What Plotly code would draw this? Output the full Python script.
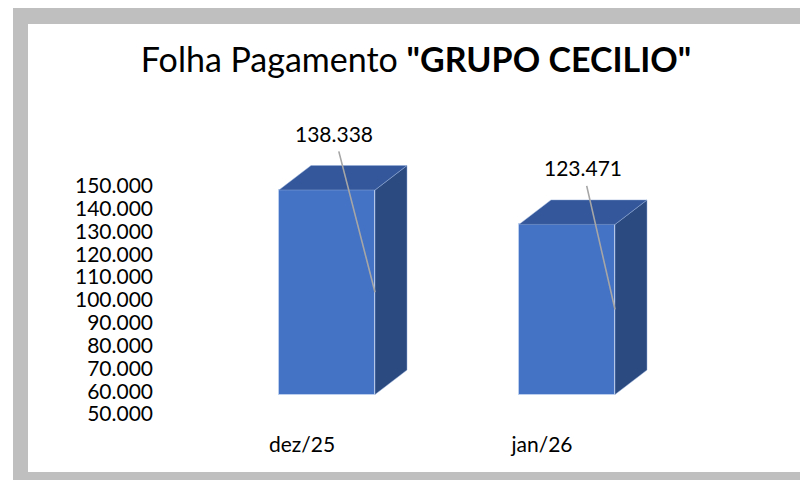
import plotly.graph_objects as go

# ---- data ----
categories = ["dez/25", "jan/26"]
values = [138338, 123471]
tick_values = [50000, 60000, 70000, 80000, 90000, 100000, 110000, 120000, 130000, 140000, 150000]
title_regular = "Folha Pagamento "
title_bold = '"GRUPO CECILIO"'

# ---- layout geometry (pixels) ----
W, H = 800, 480
L, R, T, B = 158, 40, 120, 50
PW, PH = W - L - R, H - T - B
BASE = 50000
BAR_W = 0.4
FONT = "Lato"

def y_tick_val(p):  # tick-label axis
    return 50000 + (414 - p) / 0.002283

def y_bar_val(p):  # bar axis (3D front face)
    return 50000 + (394.5 - p) / 0.002315

def x_val(p):
    return (p - 327) / 240.0

DX = 32 / 240.0          # depth in x units
DY = 24.5 / 0.002315     # depth in y2 units

def fmt(v):
    return f"{v:,}".replace(",", ".")

xs = list(range(len(categories)))

fig = go.Figure()
fig.add_trace(go.Bar(
    x=xs, y=[v - BASE for v in values], base=BASE, width=BAR_W,
    marker=dict(color="#4472C4", line=dict(color="rgba(190,208,238,0.9)", width=1)),
    yaxis="y2", hoverinfo="skip", showlegend=False,
))
# invisible trace to anchor tick axis
fig.add_trace(go.Scatter(x=[xs[0]], y=[tick_values[0]], mode="markers",
                         marker=dict(opacity=0), yaxis="y", showlegend=False, hoverinfo="skip"))

shapes = []
def px_x(p):
    return (p - L) / PW
def px_y(p):
    return (H - B - p) / PH

# frame
shapes.append(dict(type="rect", xref="paper", yref="paper", x0=px_x(13), x1=px_x(800),
                   y0=px_y(480), y1=px_y(8), fillcolor="#BFBFBF", line=dict(width=0), layer="below"))
shapes.append(dict(type="rect", xref="paper", yref="paper", x0=px_x(28), x1=px_x(800),
                   y0=px_y(472), y1=px_y(24), fillcolor="#FFFFFF", line=dict(width=0), layer="below"))

edge = dict(color="rgba(150,175,220,0.6)", width=0.8)
for i, v in zip(xs, values):
    xl, xr = i - BAR_W / 2, i + BAR_W / 2
    side = (f"M {xr},{BASE} L {xr+DX},{BASE+DY} L {xr+DX},{v+DY} L {xr},{v} Z")
    top = (f"M {xl},{v} L {xl+DX},{v+DY} L {xr+DX},{v+DY} L {xr},{v} Z")
    shapes.append(dict(type="path", xref="x", yref="y2", path=side,
                       fillcolor="#2B4A80", line=edge, layer="above"))
    shapes.append(dict(type="path", xref="x", yref="y2", path=top,
                       fillcolor="#33579A", line=edge, layer="above"))

annotations = []
label_dx = [0.03, 0.065]
for i, v, ldx in zip(xs, values, label_dx):
    annotations.append(dict(
        x=i + BAR_W / 2, y=(BASE + v) / 2, xref="x", yref="y2",
        ax=i + ldx, ay=v + 24400, axref="x", ayref="y2",
        text=fmt(v), showarrow=True, arrowhead=0, arrowwidth=1.6,
        arrowcolor="#A6A6A6", standoff=0, startstandoff=4,
        font=dict(family=FONT, size=21, color="#000000"),
    ))

fig.update_layout(
    width=W, height=H,
    margin=dict(l=L, r=R, t=T, b=B, pad=0),
    paper_bgcolor="#FFFFFF", plot_bgcolor="rgba(0,0,0,0)",
    separators=",.",
    title=dict(text=f"{title_regular}<b>{title_bold}</b>", x=416 / W, xanchor="center",
               y=1 - 60 / H, yanchor="middle",
               font=dict(family=FONT, size=34, color="#000000")),
    xaxis=dict(range=[x_val(L), x_val(W - R)], tickvals=xs, ticktext=categories,
               showgrid=False, zeroline=False, showline=False, ticks="",
               tickfont=dict(family=FONT, size=21, color="#000000"),
               ticklabelshift=-25),
    yaxis=dict(range=[y_tick_val(H - B), y_tick_val(T)], tickvals=tick_values,
               tickformat=",d", showgrid=False, zeroline=False, showline=False, ticks="",
               tickfont=dict(family=FONT, size=21, color="#000000"),
               ticklabelstandoff=4),
    yaxis2=dict(range=[y_bar_val(H - B), y_bar_val(T)], overlaying="y", visible=False),
    shapes=shapes, annotations=annotations, bargap=0,
)

fig.write_html("out.html")
